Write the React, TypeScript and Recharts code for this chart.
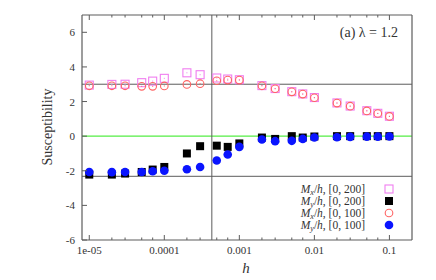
import { ScatterChart, Scatter, XAxis, YAxis, ReferenceLine } from "recharts";

const W = 436;
const H = 280;
const FONT = "'Liberation Serif', 'DejaVu Serif', serif";
const FRAME = "#5c5c5c";
const TEXT = "#333";

// field values h (log axis)
const hValues = [
  1e-5, 2e-5, 3e-5, 5e-5, 7e-5, 1e-4, 2e-4, 3e-4, 5e-4, 7e-4, 1e-3, 2e-3, 3e-3, 5e-3, 7e-3, 1e-2, 2e-2,
  3e-2, 5e-2, 7e-2, 1e-1,
];
const mx200 = [
  2.95, 2.99, 3.0, 3.09, 3.18, 3.34, 3.66, 3.55, 3.36, 3.3, 3.26, 2.92, 2.75, 2.57, 2.44, 2.23, 1.92, 1.74,
  1.47, 1.32, 1.15,
];
const my200 = [
  -2.22, -2.22, -2.16, -2.07, -1.93, -1.78, -1.0, -0.58, -0.55, -0.62, -0.42, -0.08, -0.16, 0.0, -0.08,
  -0.02, 0.0, 0.0, 0.0, 0.0, 0.0,
];
const mx100 = [
  2.91, 2.91, 2.91, 2.88, 2.88, 2.9, 2.99, 3.03, 3.2, 3.24, 3.24, 2.91, 2.74, 2.56, 2.43, 2.22, 1.91, 1.73,
  1.46, 1.31, 1.14,
];
const my100 = [
  -2.07, -2.08, -2.07, -2.07, -2.03, -2.0, -1.91, -1.78, -1.41, -1.06, -0.62, -0.19, -0.29, -0.27, -0.16,
  -0.08, -0.06, -0.04, -0.03, -0.03, -0.02,
];

const xMajor = [1e-5, 1e-4, 1e-3, 1e-2, 1e-1];
const xLabels = ["1e-05", "0.0001", "0.001", "0.01", "0.1"];
const yTicks = [-6, -4, -2, 0, 2, 4, 6];

const pts = (vals: number[]) => hValues.map((h, i) => ({ h, v: vals[i] }));

const majorIndex = (v: number) =>
  xMajor.findIndex((m) => Math.abs(Math.log10(v) - Math.log10(m)) < 1e-6);

const PINK = "#f07ef0";
const RED = "#ff6464";
const BLUE = "#0a14ff";

const OpenSquare = (p: any) => (
  <g>
    <rect x={p.cx - 4} y={p.cy - 4} width={8} height={8} fill="none" stroke={PINK} strokeWidth={1.1} />
    <rect x={p.cx - 0.5} y={p.cy - 0.5} width={1} height={1} fill={PINK} />
  </g>
);
const FilledSquare = (p: any) => (
  <rect x={p.cx - 4} y={p.cy - 4} width={8} height={8} fill="#000" />
);
const OpenCircle = (p: any) => (
  <g>
    <circle cx={p.cx} cy={p.cy} r={3.8} fill="none" stroke={RED} strokeWidth={1.1} />
    <rect x={p.cx - 0.5} y={p.cy - 0.5} width={1} height={1} fill={RED} />
  </g>
);
const FilledCircle = (p: any) => <circle cx={p.cx} cy={p.cy} r={4.3} fill={BLUE} />;

function XTickBottom({ x, y, payload }: any) {
  const i = majorIndex(payload.value);
  return (
    <g>
      <line x1={x} x2={x} y1={y} y2={y - (i >= 0 ? 5 : 2.5)} stroke={FRAME} />
      {i >= 0 && (
        <text x={x} y={y + 14} textAnchor="middle" fontSize={11} fontFamily={FONT} fill={TEXT}>
          {xLabels[i]}
        </text>
      )}
    </g>
  );
}

function XTickTop({ x, y, payload }: any) {
  const i = majorIndex(payload.value);
  return <line x1={x} x2={x} y1={y} y2={y + (i >= 0 ? 5 : 2.5)} stroke={FRAME} />;
}

function YTickLeft({ x, y, payload }: any) {
  return (
    <g>
      <line x1={x} x2={x + 5} y1={y} y2={y} stroke={FRAME} />
      <text x={x - 7} y={y + 4} textAnchor="end" fontSize={11} fontFamily={FONT} fill={TEXT}>
        {payload.value}
      </text>
    </g>
  );
}

function YTickRight({ x, y }: any) {
  return <line x1={x} x2={x - 5} y1={y} y2={y} stroke={FRAME} />;
}

function LegendRow({ y, sub, range, marker }: { y: number; sub: string; range: string; marker: React.ReactNode }) {
  return (
    <g>
      <text x={365} y={y + 4} textAnchor="end" fontSize={11.5} fontFamily={FONT} fill={TEXT}>
        <tspan fontStyle="italic">M</tspan>
        <tspan fontStyle="italic" fontSize={8} dy={2}>
          {sub}
        </tspan>
        <tspan dy={-2}>/</tspan>
        <tspan fontStyle="italic">h</tspan>
        <tspan>{`, [0, ${range}]`}</tspan>
      </text>
      {marker}
    </g>
  );
}

export default function App() {
  const lx = 389;
  return (
    <div style={{ position: "absolute", left: 0, top: 0, width: W, height: H, background: "#fff" }}>
      <ScatterChart width={W} height={H} margin={{ top: 14, right: 23, bottom: 20, left: 42 }}>
        <XAxis
          dataKey="h"
          type="number"
          scale="log"
          domain={[8e-6, 0.2]}
          allowDataOverflow
          ticks={hValues}
          interval={0}
          tick={<XTickBottom />}
          tickLine={false}
          tickSize={0}
          tickMargin={0}
          height={20}
          axisLine={{ stroke: FRAME, strokeWidth: 1.2 }}
        />
        <XAxis
          xAxisId="top"
          orientation="top"
          dataKey="h"
          type="number"
          scale="log"
          domain={[8e-6, 0.2]}
          allowDataOverflow
          ticks={hValues}
          interval={0}
          tick={<XTickTop />}
          tickLine={false}
          tickSize={0}
          tickMargin={0}
          height={1}
          axisLine={{ stroke: FRAME, strokeWidth: 1.2 }}
        />
        <YAxis
          dataKey="v"
          type="number"
          domain={[-6, 7]}
          ticks={yTicks}
          interval={0}
          tick={<YTickLeft />}
          tickLine={false}
          tickSize={0}
          tickMargin={0}
          width={40}
          axisLine={{ stroke: FRAME, strokeWidth: 1.2 }}
        />
        <YAxis
          yAxisId="right"
          orientation="right"
          dataKey="v"
          type="number"
          domain={[-6, 7]}
          ticks={yTicks}
          interval={0}
          tick={<YTickRight />}
          tickLine={false}
          tickSize={0}
          tickMargin={0}
          width={1}
          axisLine={{ stroke: FRAME, strokeWidth: 1.2 }}
        />
        <ReferenceLine y={0} stroke="#55ee44" strokeWidth={1.2} />
        <ReferenceLine y={3} stroke={FRAME} strokeWidth={1} />
        <ReferenceLine y={-2.32} stroke={FRAME} strokeWidth={1} />
        <ReferenceLine x={4.3e-4} stroke={FRAME} strokeWidth={1} />
        <Scatter data={pts(mx200)} shape={OpenSquare} isAnimationActive={false} />
        <Scatter data={pts(my200)} shape={FilledSquare} isAnimationActive={false} />
        <Scatter data={pts(mx100)} shape={OpenCircle} isAnimationActive={false} />
        <Scatter data={pts(my100)} shape={FilledCircle} isAnimationActive={false} />
      </ScatterChart>
      <svg width={W} height={H} style={{ position: "absolute", left: 0, top: 0, pointerEvents: "none" }}>
        <text x={398} y={37} textAnchor="end" fontSize={14} fontFamily={FONT} fill={TEXT}>
          (a) λ = 1.2
        </text>
        <text
          x={0}
          y={0}
          transform="translate(52,127) rotate(-90)"
          textAnchor="middle"
          fontSize={14}
          fontFamily={FONT}
          fill={TEXT}
        >
          Susceptibility
        </text>
        <text x={246} y={273} textAnchor="middle" fontSize={15} fontStyle="italic" fontFamily={FONT} fill={TEXT}>
          h
        </text>
        <LegendRow
          y={189}
          sub="x"
          range="200"
          marker={<rect x={lx - 4} y={185} width={8} height={8} fill="none" stroke={PINK} strokeWidth={1.1} />}
        />
        <LegendRow y={201} sub="y" range="200" marker={<rect x={lx - 4} y={197} width={8} height={8} fill="#000" />} />
        <LegendRow
          y={213}
          sub="x"
          range="100"
          marker={<circle cx={lx} cy={213} r={3.8} fill="none" stroke={RED} strokeWidth={1.1} />}
        />
        <LegendRow y={225} sub="y" range="100" marker={<circle cx={lx} cy={225} r={4.3} fill={BLUE} />} />
      </svg>
    </div>
  );
}
